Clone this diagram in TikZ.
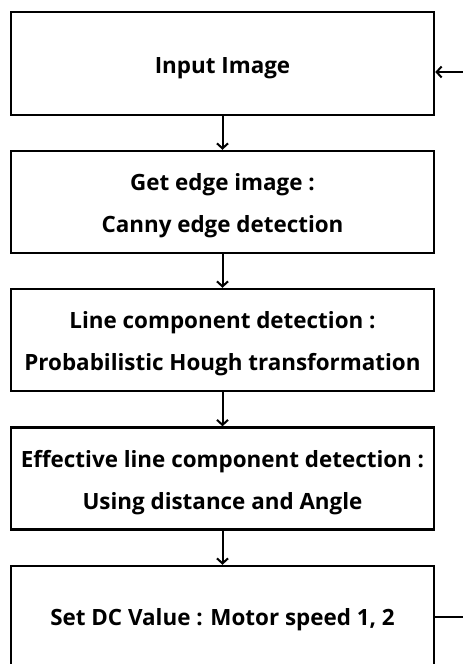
\documentclass[tikz,border=0pt]{standalone}
\usepackage{fontspec}
\setsansfont{Open Sans}[BoldFont={Open Sans Bold}]
\usetikzlibrary{arrows.meta}
\begin{document}
\begin{tikzpicture}[x=1pt,y=-1pt,
  stepbox/.style={draw, line width=2.5pt, rectangle, minimum width=423pt, minimum height=102pt, inner sep=0pt},
  txt/.style={align=center, inner sep=0pt, font=\sffamily\bfseries\fontsize{22.4}{42}\selectfont},
  conn/.style={line width=2pt, -{Straight Barb[length=5pt,width=11pt,line width=2pt]}},
  plain/.style={line width=2pt}]
\useasboundingbox (0,0) rectangle (463,664);
\clip (0,0) rectangle (463,664);
\node[stepbox, minimum height=103pt] (b1) at (222.5,63.5) {};
\node[stepbox] (b2) at (222.5,202) {};
\node[stepbox] (b3) at (222.5,340) {};
\node[stepbox] (b4) at (222.5,478.5) {};
\node[stepbox, minimum height=104pt] (b5) at (222.5,618) {};
\node[txt] (t1) at ([yshift=-5pt]b1.center) {Input Image};
\node[txt] (t2) at ([yshift=-4pt]b2.center) {Get edge image :\\Canny edge detection};
\node[txt] (t3) at ([yshift=-4pt]b3.center) {Line component detection :\\Probabilistic Hough transformation};
\node[txt] (t4) at ([yshift=-4pt]b4.center) {Effective line component detection :\\Using distance and Angle};
\node[txt] (t5) at ([yshift=-2pt]b5.center) {Set DC Value : Motor speed 1, 2};
\coordinate (inR) at (463,72);
\coordinate (outR) at (463,617);
\draw[conn] (b1) -- (b2);
\draw[conn] (b2) -- (b3);
\draw[conn] (b3) -- (b4);
\draw[conn] (b4) -- (b5);
\draw[conn] (inR) -- (inR -| b1.east);
\draw[plain] (outR -| b5.east) -- (outR);
\end{tikzpicture}
\end{document}
